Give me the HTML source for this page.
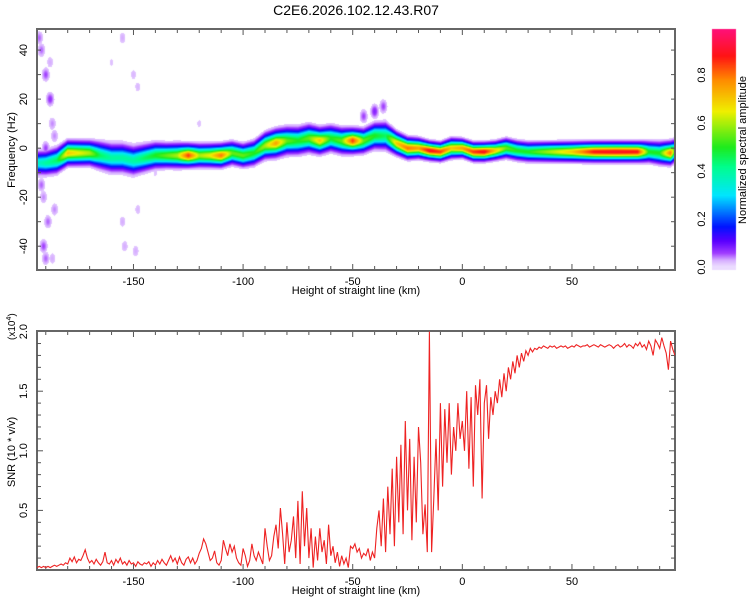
<!DOCTYPE html>
<html><head><meta charset="utf-8"><style>
body{margin:0;background:#fff;}
#wrap{position:relative;width:750px;height:600px;font-family:"Liberation Sans",sans-serif;}
canvas{position:absolute;left:0;top:0;}
svg{position:absolute;left:0;top:0;}
</style></head><body>
<div id="wrap">
<canvas id="spec" width="750" height="600"></canvas>
<svg id="svg" width="750" height="600"></svg>
</div>
<script>
// ---- data ----
const ridgeKm = [-194,-190,-185,-180,-175,-170,-165,-160,-155,-150,-145,-140,-135,-130,-125,-120,-115,-110,-105,-100,-95,-90,-85,-80,-75,-70,-65,-60,-55,-50,-45,-40,-35,-30,-25,-20,-15,-10,-5,0,5,10,15,20,25,30,40,50,60,70,80,85,90,95,97];
const ridgeFreq = [-6,-6,-5,-2,-2,-2,-3,-4,-4,-5,-4,-3,-3,-3,-3,-3,-3,-3,-2,-3,-2,1,2,3,3,4,3,4,3,3,3,5,5,2,0,0,-1,-1.5,0,0,-1.5,-1.5,-1,0,-1,-1.5,-1.5,-1.5,-1.5,-1.5,-1.5,-1.5,-2,-2,-1];
const ridgeAmp = [0.35,0.4,0.45,0.7,0.65,0.6,0.45,0.4,0.4,0.4,0.45,0.5,0.55,0.6,0.85,0.6,0.65,0.8,0.55,0.55,0.5,0.6,0.75,0.55,0.5,0.55,0.7,0.5,0.55,0.85,0.55,0.5,0.45,0.7,0.8,0.75,0.9,0.85,0.7,0.75,0.85,0.9,0.7,0.55,0.5,0.5,0.6,0.7,0.88,0.9,0.88,0.5,0.5,0.8,0.5];
const ridgeWidth = [3.2,3.2,3.4,3.2,3.2,3.2,3.6,3.8,3.8,3.8,3.6,3.4,3.2,3.2,3.0,3.0,3.0,3.0,3.0,3.0,3.2,3.4,3.6,3.6,3.6,3.6,3.4,3.4,3.4,3.2,3.2,3.4,3.6,3.0,2.8,2.6,2.4,2.4,2.6,2.4,2.4,2.4,2.4,2.6,2.6,2.6,2.6,2.6,2.6,2.6,2.6,2.8,3.0,3.0,3.0];
const blobKm = [-45,-40,-36,-192,-190,-188,-192,-189,-191,-187,-193,-186,-190,-188,-193,-191,-187,-155,-155,-154,-148,-148,-149,-150,-186,-190,-160,-140,-120];
const blobFreq = [13,15,17,40,30,20,-15,-30,-40,10,45,-25,0,35,-5,-20,-45,45,-30,-40,-25,25,-42,30,5,-45,35,-10,10];
const blobAmp = [0.06,0.08,0.06,0.05,0.06,0.07,0.05,0.05,0.06,0.04,0.05,0.04,0.06,0.03,0.05,0.04,0.03,0.03,0.03,0.03,0.025,0.025,0.03,0.025,0.04,0.05,0.02,0.02,0.02];
const snrStart = -194;
const snrValues = [
.02,.03,.02,.03,.02,.03,.02,.03,.04,.03,
.04,.05,.04,.06,.05,.10,.07,.11,.06,.09,
.08,.12,.17,.10,.06,.08,.05,.09,.06,.04,
.07,.15,.06,.05,.08,.04,.09,.06,.10,.05,
.07,.04,.08,.05,.06,.03,.07,.05,.04,.06,
.05,.07,.03,.06,.04,.08,.05,.09,.06,.04,
.08,.12,.07,.10,.05,.11,.06,.04,.09,.11,
.06,.10,.05,.08,.14,.18,.26,.22,.15,.08,
.10,.16,.06,.04,.08,.25,.18,.12,.22,.15,
.20,.10,.06,.04,.18,.12,.03,.08,.22,.12,
.08,.15,.10,.05,.35,.20,.08,.12,.28,.38,
.18,.52,.30,.05,.40,.15,.25,.45,.10,.58,
.05,.66,.20,.52,.10,.35,.02,.28,.08,.35,
.15,.25,.05,.38,.12,.20,.06,.15,.03,.12,
.05,.10,.02,.20,.18,.22,.15,.18,.10,.14,
.12,.18,.08,.15,.10,.35,.50,.20,.60,.15,
.70,.30,.85,.20,.95,.40,1.05,.30,1.25,.50,
1.10,.25,.95,.40,1.20,.90,.30,.55,.15,2.0,
.15,.60,1.10,.50,1.40,.70,1.35,.90,1.40,.80,
1.20,1.00,1.40,1.10,1.25,1.00,1.50,.85,1.45,.70,
1.55,1.30,1.60,.60,1.40,1.55,1.10,1.45,1.30,1.50,
1.40,1.60,1.45,1.65,1.50,1.70,1.60,1.75,1.65,1.80,
1.70,1.82,1.75,1.84,1.80,1.86,1.83,1.86,1.85,1.87,
1.86,1.88,1.87,1.86,1.88,1.87,1.88,1.86,1.87,1.88,
1.87,1.88,1.86,1.87,1.88,1.87,1.89,1.88,1.87,1.88,
1.88,1.89,1.87,1.88,1.89,1.88,1.87,1.89,1.88,1.87,
1.88,1.89,1.88,1.86,1.88,1.89,1.87,1.88,1.90,1.87,
1.89,1.88,1.86,1.90,1.88,1.91,1.87,1.89,1.85,1.92,
1.88,1.80,1.93,1.90,1.86,1.95,1.88,1.82,1.68,1.92,1.85,1.80];
const xTicks = [-150,-100,-50,0,50];
const freqTicks = [40,20,0,-20,-40];
const snrTicks = [0.5,1.0,1.5,2.0];
const cbTicks = [0.0,0.2,0.4,0.6,0.8];

// ---- axes ----
const L=37,R=675,T1=29,B1=270,T2=331,B2=570;
const xMin=-194,xMax=97;
const xS = v => L+(v-xMin)/(xMax-xMin)*(R-L);
const xInv = px => xMin+(px-L)/(R-L)*(xMax-xMin);
const fMin=-49.7,fMax=48.6;
const yF = v => B1-(v-fMin)/(fMax-fMin)*(B1-T1);
const fInv = py => fMin+(B1-py)/(B1-T1)*(fMax-fMin);
const sMax=2.005;
const yS = v => B2-v/sMax*(B2-T2);
const CB={x:712,w:24,top:29,bot:270};
const yC = v => 267-v*(267-75)/0.8;

const stops=[[0,[240,228,255]],[0.03,[215,175,255]],[0.06,[160,60,255]],[0.11,[90,0,255]],[0.17,[0,20,255]],[0.3,[0,230,255]],[0.42,[0,255,140]],[0.5,[30,235,30]],[0.65,[240,240,0]],[0.78,[255,140,0]],[0.88,[255,20,20]],[1,[255,16,128]]];
function cmap(v){
  if(v<=0)return stops[0][1];
  for(let i=1;i<stops.length;i++){if(v<=stops[i][0]){const a=stops[i-1],b=stops[i],t=(v-a[0])/(b[0]-a[0]);return a[1].map((c,k)=>c+(b[1][k]-c)*t);}}
  return stops[stops.length-1][1];
}
function interp(xs,ys,x){
  if(x<=xs[0])return ys[0];
  for(let i=1;i<xs.length;i++){if(x<=xs[i]){const t=(x-xs[i-1])/(xs[i]-xs[i-1]);return ys[i-1]+(ys[i]-ys[i-1])*t;}}
  return ys[ys.length-1];
}
const cv=document.getElementById('spec'),ctx=cv.getContext('2d');
const img=ctx.createImageData(R-L,B1-T1);
for(let px=L;px<R;px++){
  const km=xInv(px+0.5),f0=interp(ridgeKm,ridgeFreq,km),a=interp(ridgeKm,ridgeAmp,km),w=interp(ridgeKm,ridgeWidth,km);
  for(let py=T1;py<B1;py++){
    const f=fInv(py+0.5);
    let v=a*Math.exp(-Math.pow((f-f0)/w,2));
    v=Math.max(v,0.04*Math.exp(-Math.pow((f-f0)/(w*1.9),2)));
    for(let i=0;i<blobKm.length;i++){
      const dx=(km-blobKm[i])/1.6,df=(f-blobFreq[i])/2.5;
      v=Math.max(v,blobAmp[i]*Math.exp(-(dx*dx+df*df)));
    }
    const idx=((py-T1)*(R-L)+(px-L))*4;
    if(v<0.015){img.data[idx]=255;img.data[idx+1]=255;img.data[idx+2]=255;}
    else{const c=cmap(v);img.data[idx]=c[0];img.data[idx+1]=c[1];img.data[idx+2]=c[2];}
    img.data[idx+3]=255;
  }
}
ctx.putImageData(img,L,T1);
for(let py=CB.top;py<CB.bot;py++){
  const v=(267-py)/(267-75)*0.8;const c=cmap(Math.max(0.005,v));
  ctx.fillStyle=`rgb(${c[0]|0},${c[1]|0},${c[2]|0})`;ctx.fillRect(CB.x,py,CB.w,1);
}

const NS='http://www.w3.org/2000/svg',svg=document.getElementById('svg');
function mk(tag,attrs,parent){const e=document.createElementNS(NS,tag);for(const k in attrs)e.setAttribute(k,attrs[k]);(parent||svg).appendChild(e);return e;}
function txt(s,x,y,opt,name){const e=mk('text',Object.assign({x:x,y:y,'font-size':11,fill:'#000','font-family':'Liberation Sans, sans-serif','text-anchor':'middle'},opt||{}));e.textContent=s;


return e;}

txt('C2E6.2026.102.12.43.R07',356,15,{'font-size':14},'chart-title');

function frame(T,B,name){
  const g=mk('g',{});
  
  
  for(let v=-190;v<=90;v+=10){const x=xS(v),len=(v%50===0)?6:4;
    mk('line',{x1:x,x2:x,y1:T,y2:T+len,stroke:'#555','stroke-width':1},g);
    mk('line',{x1:x,x2:x,y1:B,y2:B-len,stroke:'#555','stroke-width':1},g);}
  mk('rect',{x:L,y:T,width:R-L,height:B-T,fill:'none',stroke:'#666','stroke-width':2},g);
  return g;
}
frame(T1,B1,'spectrogram-frame');
frame(T2,B2,'snr-frame');
for(let v=-40;v<=40;v+=10){const y=yF(v);
  mk('line',{x1:L,x2:L+4,y1:y,y2:y,stroke:'#555'});mk('line',{x1:R,x2:R-4,y1:y,y2:y,stroke:'#555'});}
for(let v=0.1;v<2.0;v+=0.1){const y=yS(v),len=(Math.abs(v*2-Math.round(v*2))<0.01)?6:4;
  mk('line',{x1:L,x2:L+len,y1:y,y2:y,stroke:'#555'});mk('line',{x1:R,x2:R-len,y1:y,y2:y,stroke:'#555'});}
xTicks.forEach(v=>{txt(String(v),xS(v),285,{},'x-tick-label-top');txt(String(v),xS(v),585,{},'x-tick-label-bottom');});
freqTicks.forEach(v=>{const y=yF(v);txt(String(v),27,y,{transform:`rotate(-90 27 ${y})`},'freq-tick-label');});
snrTicks.forEach(v=>{const y=yS(v);txt(v.toFixed(1),27,y,{transform:`rotate(-90 27 ${y})`},'snr-tick-label');});
cbTicks.forEach(v=>{const y=yC(v);txt(v.toFixed(1),705,y,{transform:`rotate(-90 705 ${y})`},'colorbar-tick-label');});
txt('Height of straight line (km)',356,294,{},'x-axis-title-top');
txt('Height of straight line (km)',356,594,{},'x-axis-title-bottom');
txt('Frequency (Hz)',15,150,{transform:'rotate(-90 15 150)'},'freq-axis-title');
txt('SNR (10 * v/v)',15,452,{transform:'rotate(-90 15 452)'},'snr-axis-title');
const ex=txt('(x10',15,340,{transform:'rotate(-90 15 340)','text-anchor':'start','font-size':10},'snr-scale-label');
const sup=mk('tspan',{dy:-4,'font-size':7},ex);sup.textContent='4';
const cl=mk('tspan',{dy:4},ex);cl.textContent=')';
txt('Normalized spectral amplitude',746,150,{transform:'rotate(-90 746 150)'},'colorbar-title');

const defs=mk('defs',{});const cp=mk('clipPath',{id:'clipS'},defs);mk('rect',{x:L,y:T2,width:R-L,height:B2-T2},cp);
let d='';
snrValues.forEach((v,i)=>{const x=xS(snrStart+i),y=yS(v);d+=(i?'L':'M')+x.toFixed(1)+','+y.toFixed(1);});
const line=mk('path',{d:d,fill:'none',stroke:'#ee2222','stroke-width':1.1,'clip-path':'url(#clipS)'});


</script>
</body></html>
